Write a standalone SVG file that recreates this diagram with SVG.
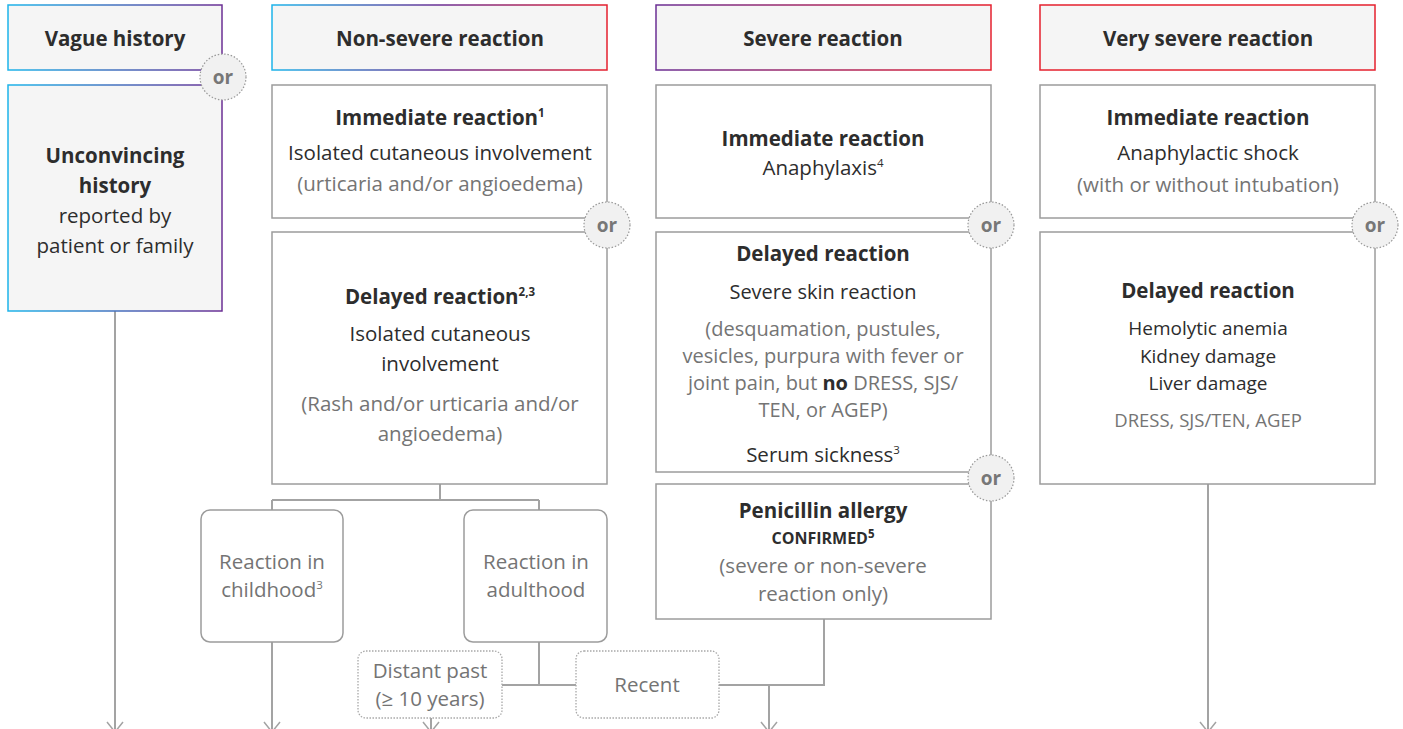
<svg xmlns="http://www.w3.org/2000/svg" width="1403" height="729" viewBox="0 0 1403 729">
<defs>
<linearGradient id="gVague" gradientUnits="userSpaceOnUse" x1="8" y1="0" x2="222" y2="0"><stop offset="0" stop-color="#1db4ea"/><stop offset="1" stop-color="#6b2f94"/></linearGradient>
<linearGradient id="gNon" gradientUnits="userSpaceOnUse" x1="272" y1="0" x2="607" y2="0"><stop offset="0" stop-color="#1db4ea"/><stop offset="0.5" stop-color="#6b2f94"/><stop offset="1" stop-color="#e5202e"/></linearGradient>
<linearGradient id="gSev" gradientUnits="userSpaceOnUse" x1="656" y1="0" x2="991" y2="0"><stop offset="0" stop-color="#6b2f94"/><stop offset="1" stop-color="#e5202e"/></linearGradient>
<marker id="arr" viewBox="-1 -9 12 18" refX="10" refY="0" markerWidth="12" markerHeight="18" markerUnits="userSpaceOnUse" orient="auto"><path d="M0,-8 L10,0 L0,8" fill="none" stroke="#a3a3a3" stroke-width="1.5"/></marker>
<style>
text{font-family:"Open Sans","Noto Sans",sans-serif;text-anchor:middle;font-size:20.5px;fill:#2d2d2d}
.b{font-weight:bold}
.g{fill:#747474}
.sm{font-size:19px}
.md{font-size:20px}
.xs{font-size:18.5px}
.caps{font-size:16px;font-weight:bold}
.hdr{fill:#f5f5f5;stroke-width:1.5}
.box{fill:#fff;stroke:#9c9c9c;stroke-width:1.5}
.rbox{fill:#fff;stroke:#9c9c9c;stroke-width:1.5}
.dbox{fill:#fff;stroke:#a8a8a8;stroke-width:1.3;stroke-dasharray:1.5 1.5}
.or circle{fill:#f1f1f1;stroke:#999;stroke-width:1.2;stroke-dasharray:1.5 1.8}
.or text{font-weight:bold;fill:#777;font-size:19px}
.ln{fill:none;stroke:#a3a3a3;stroke-width:2}
.sup{font-size:11.5px}
</style>
</defs>

<g id="connectors">
<path class="ln" d="M115,311 V732" marker-end="url(#arr)"/>
<path class="ln" d="M440,484 V500 M272,500 H539 M272,500 V510 M539,500 V510"/>
<path class="ln" d="M272,642 V732" marker-end="url(#arr)"/>
<path class="ln" d="M539,642 V685 M502,685 H576"/>
<path class="ln" d="M431,718 V732" marker-end="url(#arr)"/>
<path class="ln" d="M719,685 H824 V619"/>
<path class="ln" d="M769,685 V732" marker-end="url(#arr)"/>
<path class="ln" d="M1208,484 V732" marker-end="url(#arr)"/>
</g>

<g id="hdr-vague"><rect class="hdr" x="8" y="5" width="214" height="65" stroke="url(#gVague)"/><text class="b" x="115" y="46">Vague history</text></g>
<g id="hdr-nonsevere"><rect class="hdr" x="272" y="5" width="335" height="65" stroke="url(#gNon)"/><text class="b" x="440" y="46">Non-severe reaction</text></g>
<g id="hdr-severe"><rect class="hdr" x="656" y="5" width="335" height="65" stroke="url(#gSev)"/><text class="b" x="823" y="46">Severe reaction</text></g>
<g id="hdr-verysevere"><rect class="hdr" x="1040" y="5" width="335" height="65" stroke="#e5202e"/><text class="b" x="1208" y="46">Very severe reaction</text></g>

<g id="unconvincing"><rect class="hdr" x="8" y="85" width="214" height="226" stroke="url(#gVague)"/>
<text class="b" x="115" y="163">Unconvincing</text>
<text class="b" x="115" y="193">history</text>
<text x="115" y="223">reported by</text>
<text x="115" y="253">patient or family</text></g>

<g id="ns-immediate"><rect class="box" x="272" y="85" width="335" height="133"/>
<text class="b" x="440" y="125">Immediate reaction<tspan class="sup" dy="-8">1</tspan></text>
<text x="440" y="160">Isolated cutaneous involvement</text>
<text class="g" x="440" y="191">(urticaria and/or angioedema)</text></g>

<g id="ns-delayed"><rect class="box" x="272" y="232" width="335" height="252"/>
<text class="b" x="440" y="304">Delayed reaction<tspan class="sup" dy="-8">2,3</tspan></text>
<text x="440" y="341">Isolated cutaneous</text>
<text x="440" y="371">involvement</text>
<text class="g" x="440" y="411">(Rash and/or urticaria and/or</text>
<text class="g" x="440" y="441">angioedema)</text></g>

<g id="childhood"><rect class="rbox" x="201" y="510" width="142" height="132" rx="9"/>
<text class="g" x="272" y="569">Reaction in</text>
<text class="g" x="272" y="597">childhood<tspan class="sup" dy="-8">3</tspan></text></g>

<g id="adulthood"><rect class="rbox" x="464" y="510" width="143" height="132" rx="9"/>
<text class="g" x="536" y="569">Reaction in</text>
<text class="g" x="536" y="597">adulthood</text></g>

<g id="distant"><rect class="dbox" x="358" y="651" width="144" height="67" rx="8"/>
<text class="g" x="430" y="678">Distant past</text>
<text class="g" x="430" y="706">(≥ 10 years)</text></g>

<g id="recent"><rect class="dbox" x="576" y="651" width="143" height="67" rx="8"/>
<text class="g" x="647" y="692">Recent</text></g>

<g id="s-immediate"><rect class="box" x="656" y="85" width="335" height="133"/>
<text class="b" x="823" y="146">Immediate reaction</text>
<text x="823" y="175">Anaphylaxis<tspan class="sup" dy="-8">4</tspan></text></g>

<g id="s-delayed"><rect class="box" x="656" y="232" width="335" height="240"/>
<text class="b" x="823" y="261">Delayed reaction</text>
<text class="md" x="823" y="299">Severe skin reaction</text>
<text class="g md" x="823" y="336">(desquamation, pustules,</text>
<text class="g md" x="823" y="363">vesicles, purpura with fever or</text>
<text class="g md" x="823" y="390">joint pain, but <tspan class="b" fill="#2d2d2d">no</tspan> DRESS, SJS/</text>
<text class="g md" x="823" y="417">TEN, or AGEP)</text>
<text x="823" y="462">Serum sickness<tspan class="sup" dy="-8">3</tspan></text></g>

<g id="penicillin"><rect class="box" x="656" y="484" width="335" height="135"/>
<text class="b" x="823" y="518">Penicillin allergy</text>
<text class="caps" x="823" y="544">CONFIRMED<tspan class="sup" dy="-6">5</tspan></text>
<text class="g" x="823" y="573">(severe or non-severe</text>
<text class="g" x="823" y="601">reaction only)</text></g>

<g id="vs-immediate"><rect class="box" x="1040" y="85" width="335" height="133"/>
<text class="b" x="1208" y="125">Immediate reaction</text>
<text x="1208" y="160">Anaphylactic shock</text>
<text class="g" x="1208" y="192">(with or without intubation)</text></g>

<g id="vs-delayed"><rect class="box" x="1040" y="232" width="335" height="252"/>
<text class="b" x="1208" y="298">Delayed reaction</text>
<text class="sm" x="1208" y="335">Hemolytic anemia</text>
<text class="sm" x="1208" y="363">Kidney damage</text>
<text class="sm" x="1208" y="390">Liver damage</text>
<text class="g xs" x="1208" y="427">DRESS, SJS/TEN, AGEP</text></g>

<g id="or1" class="or"><circle cx="223" cy="77" r="23"/><text x="223" y="84">or</text></g>
<g id="or2" class="or"><circle cx="607" cy="225" r="23"/><text x="607" y="232">or</text></g>
<g id="or3" class="or"><circle cx="991" cy="225" r="23"/><text x="991" y="232">or</text></g>
<g id="or4" class="or"><circle cx="991" cy="478" r="23"/><text x="991" y="485">or</text></g>
<g id="or5" class="or"><circle cx="1375" cy="225" r="23"/><text x="1375" y="232">or</text></g>
</svg>
